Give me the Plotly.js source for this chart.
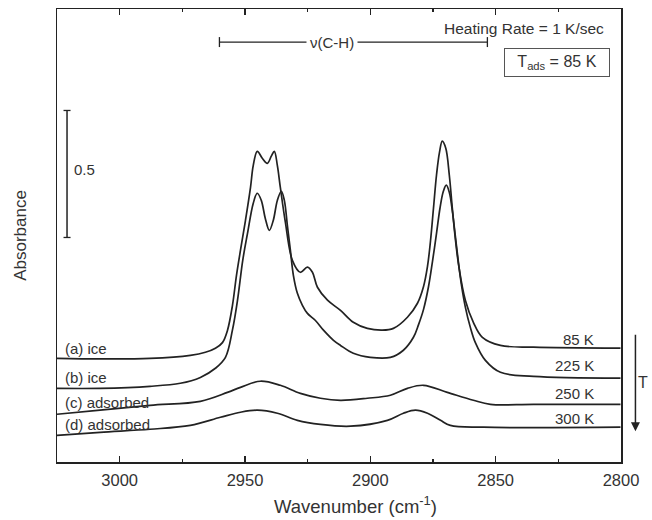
<!DOCTYPE html>
<html>
<head>
<meta charset="utf-8">
<script src="https://cdn.plot.ly/plotly-3.0.1.min.js"></script>
<style>html,body{margin:0;padding:0;background:#fff;}#chart{width:652px;height:520px;}</style>
</head>
<body>
<div id="chart"></div>
<script>
// Wavenumber (cm-1) and absorbance values
const wnA = [3025.0,3007.8,2987.9,2971.8,2965.8,2961.8,2959.0,2957.0,2955.0,2953.4,2951.8,2949.8,2947.8,2946.7,2945.1,2943.1,2941.1,2939.5,2938.3,2937.1,2935.9,2933.9,2931.1,2927.9,2925.1,2923.1,2921.1,2917.1,2911.9,2906.8,2901.2,2895.2,2890.8,2885.2,2881.2,2878.8,2877.2,2876.0,2874.8,2873.6,2872.4,2871.3,2869.9,2868.5,2867.3,2866.1,2864.7,2862.1,2858.9,2855.3,2848.1,2834.9,2800.2];
const absA = [0.408,0.406,0.408,0.420,0.432,0.448,0.470,0.518,0.617,0.735,0.834,0.952,1.081,1.168,1.223,1.196,1.176,1.204,1.223,1.168,1.081,0.944,0.794,0.747,0.767,0.747,0.688,0.637,0.597,0.550,0.526,0.519,0.526,0.570,0.625,0.690,0.770,0.870,1.000,1.130,1.220,1.263,1.235,1.130,1.000,0.880,0.770,0.637,0.550,0.491,0.459,0.452,0.448];

const wnB = [3025.0,3007.8,2987.9,2975.8,2967.8,2961.8,2957.8,2955.0,2953.0,2950.9,2949.0,2946.7,2945.1,2943.5,2941.9,2940.3,2938.7,2937.1,2935.5,2934.3,2933.1,2931.9,2930.7,2929.1,2927.1,2925.1,2922.0,2918.7,2914.7,2911.9,2906.8,2900.0,2892.0,2886.8,2882.8,2880.8,2878.8,2876.8,2875.2,2873.6,2872.2,2870.9,2869.7,2868.5,2867.3,2866.1,2864.9,2863.7,2862.1,2860.1,2858.1,2854.1,2848.1,2834.9,2800.2];
const absB = [0.290,0.290,0.298,0.310,0.333,0.369,0.412,0.520,0.636,0.794,0.900,1.019,1.058,1.030,0.959,0.912,0.952,1.030,1.066,1.030,0.932,0.834,0.735,0.664,0.617,0.585,0.558,0.519,0.479,0.459,0.428,0.412,0.412,0.440,0.491,0.540,0.600,0.690,0.790,0.900,1.000,1.065,1.090,1.062,0.990,0.890,0.790,0.700,0.610,0.530,0.470,0.400,0.353,0.337,0.330];

const wnC = [3025.0,3007.8,2987.9,2967.8,2957.0,2951.8,2943.9,2935.9,2927.9,2919.9,2911.9,2901.2,2892.0,2885.2,2878.8,2869.3,2858.9,2852.1,2834.9,2800.2];
const absC = [0.188,0.204,0.223,0.239,0.274,0.294,0.318,0.302,0.270,0.251,0.243,0.251,0.263,0.290,0.302,0.274,0.243,0.227,0.227,0.227];

const wnD = [3025.0,3007.8,2987.9,2971.8,2959.8,2951.8,2945.1,2937.1,2929.1,2919.9,2907.9,2893.2,2886.8,2882.0,2877.2,2872.0,2868.1,2854.9,2800.2];
const absD = [0.105,0.117,0.129,0.144,0.176,0.196,0.204,0.192,0.164,0.148,0.141,0.164,0.192,0.204,0.192,0.164,0.144,0.137,0.137];

const leftLabels = ['(a) ice','(b) ice','(c) adsorbed','(d) adsorbed'];
const leftLabelY = [0.448,0.333,0.235,0.146];
const rightLabels = ['85 K','225 K','250 K','300 K'];
const rightLabelY = [0.484,0.378,0.271,0.172];

const FONT = 'Liberation Sans, Arial, sans-serif';
const TXT = '#333';
const LC = '#222';

function tr(x,y){return {x:x,y:y,type:'scatter',mode:'lines',line:{color:LC,width:1.7,shape:'spline',smoothing:1},hoverinfo:'skip',showlegend:false};}
const data = [tr(wnA,absA),tr(wnB,absB),tr(wnC,absC),tr(wnD,absD)];

const ann = [];
leftLabels.forEach((t,i)=>ann.push({x:3022.5,y:leftLabelY[i],xref:'x',yref:'y',text:t,showarrow:false,xanchor:'left',yanchor:'middle',font:{family:FONT,size:15,color:TXT}}));
rightLabels.forEach((t,i)=>ann.push({x:2809.8,y:rightLabelY[i],xref:'x',yref:'y',text:t,showarrow:false,xanchor:'right',yanchor:'middle',font:{family:FONT,size:15,color:TXT}}));
ann.push({x:0.9735,y:0.957,xref:'paper',yref:'paper',text:'Heating Rate = 1 K/sec',showarrow:false,xanchor:'right',yanchor:'middle',font:{family:FONT,size:15.5,color:TXT}});
ann.push({x:0.887,y:0.882,xref:'paper',yref:'paper',text:'T<sub>ads</sub> = 85 K',showarrow:false,xanchor:'center',yanchor:'middle',width:102,height:25,borderpad:1,borderwidth:1,bordercolor:'#555',bgcolor:'#fff',font:{family:FONT,size:16,color:TXT}});
ann.push({x:2915.1,y:0.927,xref:'x',yref:'paper',text:'ν(C-H)',showarrow:false,xanchor:'center',yanchor:'middle',bgcolor:'#fff',borderpad:3,font:{family:FONT,size:15,color:TXT}});
ann.push({x:3019.0,y:1.152,xref:'x',yref:'y',text:'0.5',showarrow:false,xanchor:'left',yanchor:'middle',font:{family:FONT,size:15,color:TXT}});
ann.push({x:1.0256,y:0.068,xref:'paper',yref:'paper',ax:0,ay:-98,text:'',showarrow:true,arrowhead:2,arrowsize:1.2,arrowwidth:1.5,arrowcolor:'#222'});
ann.push({x:1.0398,y:0.176,xref:'paper',yref:'paper',text:'T',showarrow:false,xanchor:'center',yanchor:'middle',font:{family:FONT,size:16,color:TXT}});
ann.push({x:0.529,y:-0.095,xref:'paper',yref:'paper',text:'Wavenumber (cm<sup>-1</sup>)',showarrow:false,xanchor:'center',yanchor:'middle',font:{family:FONT,size:18.5,color:TXT}});

const shapes = [
  {type:'line',xref:'x',yref:'paper',x0:2960.2,x1:2853.3,y0:0.927,y1:0.927,line:{color:LC,width:1.3}},
  {type:'line',xref:'x',yref:'paper',x0:2960.2,x1:2960.2,y0:0.916,y1:0.938,line:{color:LC,width:1.3}},
  {type:'line',xref:'x',yref:'paper',x0:2853.3,x1:2853.3,y0:0.916,y1:0.938,line:{color:LC,width:1.3}},
  {type:'line',xref:'x',yref:'y',x0:3021,x1:3021,y0:0.884,y1:1.384,line:{color:LC,width:1.5}},
  {type:'line',xref:'x',yref:'y',x0:3022.4,x1:3019.6,y0:0.884,y1:0.884,line:{color:LC,width:1.3}},
  {type:'line',xref:'x',yref:'y',x0:3022.4,x1:3019.6,y0:1.384,y1:1.384,line:{color:LC,width:1.3}}
];

const layout = {
  width:652,height:520,
  margin:{l:57,r:31.4,t:8.7,b:58.3},
  paper_bgcolor:'#fff',plot_bgcolor:'#fff',
  font:{family:FONT,color:TXT},
  xaxis:{range:[3025,2800],tickvals:[3000,2950,2900,2850,2800],ticktext:['3000','2950','2900','2850','2800'],ticks:'inside',ticklen:6,tickwidth:1.3,tickcolor:'#222',
    minor:{dtick:25,tick0:2800,ticks:'inside',ticklen:3,tickwidth:1.3,tickcolor:'#222'},
    showline:true,linecolor:'#222',linewidth:1.5,mirror:'ticks',showgrid:false,zeroline:false,
    ticklabelstandoff:3,
    tickfont:{family:FONT,size:16.5,color:TXT}},
  yaxis:{range:[0,1.7835],showticklabels:false,ticks:'',showline:true,linecolor:'#222',linewidth:1.5,mirror:true,showgrid:false,zeroline:false,
    title:{text:'Absorbance',font:{family:FONT,size:17,color:TXT},standoff:24}},
  annotations:ann,shapes:shapes
};
Plotly.newPlot('chart',data,layout,{displayModeBar:false,staticPlot:true});
</script>
</body>
</html>
